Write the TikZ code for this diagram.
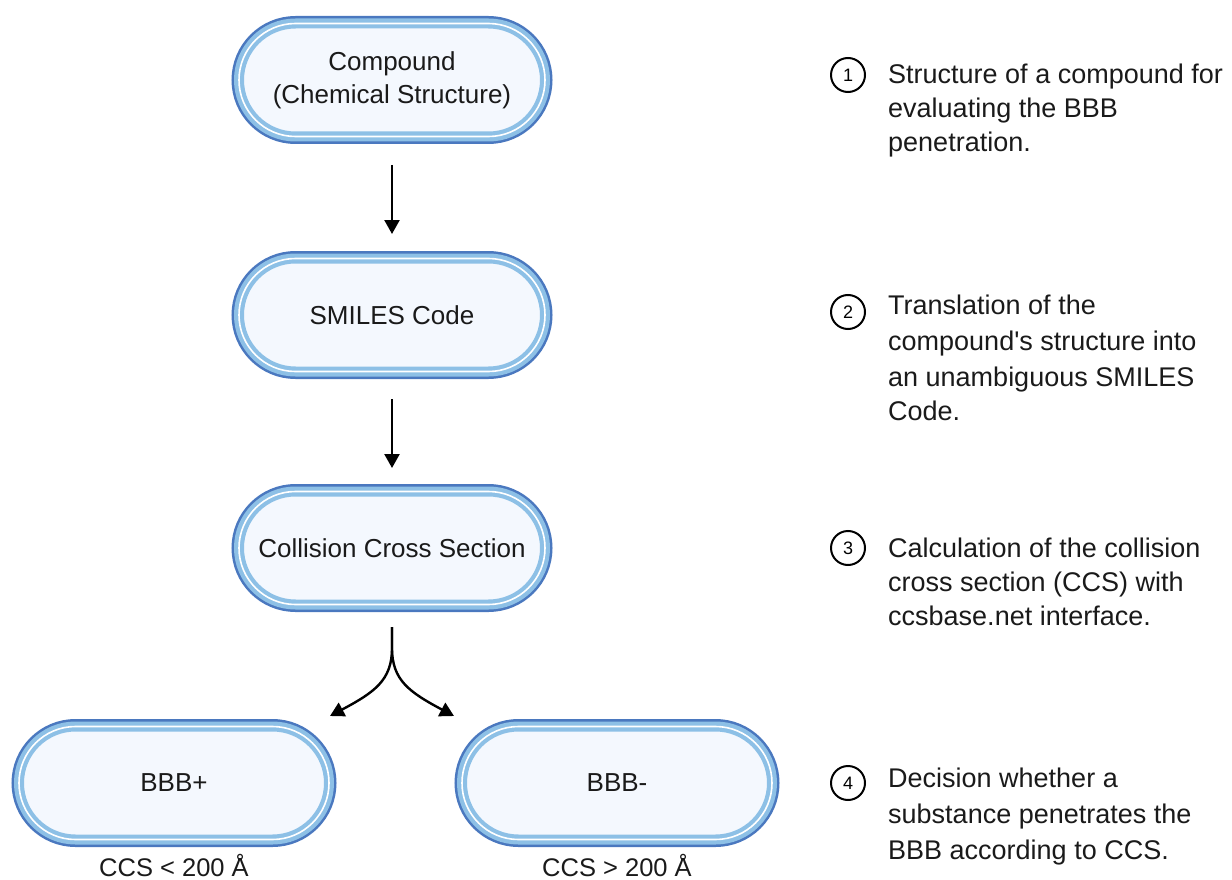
\documentclass[tikz,border=0pt]{standalone}
\usepackage{fontspec}
\newfontfamily\sansf{Liberation Sans}
\usetikzlibrary{shapes.misc,arrows.meta}
\definecolor{pilldark}{HTML}{4A78BF}
\definecolor{pillband}{HTML}{8DC0E6}
\definecolor{pillfill}{HTML}{F4F8FE}
\definecolor{txt}{HTML}{1A1A1A}
\tikzset{
  pill/.style={rounded rectangle, minimum width=306pt, minimum height=113pt, inner sep=0pt,
    preaction={draw=pilldark, line width=15pt},
    fill=pillfill, draw=pillband, line width=10pt,
    postaction={draw=white, line width=1.6pt},
    text=txt, align=center, font=\sansf\fontsize{26}{33}\selectfont},
  numc/.style={circle, draw=black, line width=2pt, minimum size=34pt, inner sep=0pt,
    font=\sansf\fontsize{18}{18}\selectfont},
  desc/.style={anchor=base west, inner sep=0pt, text=txt, font=\sansf\fontsize{27}{30}\selectfont},
  ccs/.style={anchor=base, inner sep=0pt, text=txt, font=\sansf\fontsize{25.5}{26}\selectfont},
  arr/.style={line width=2.4pt, -{Triangle[width=15pt,length=14pt]}}
}
\begin{document}
\begin{tikzpicture}[x=1pt,y=-1pt]
\path[use as bounding box] (0,0) rectangle (1232,880);
\node[pill] (comp) at (392,80) {Compound\\(Chemical Structure)};
\node[pill] (smiles) at (392,315) {SMILES Code};
\node[pill] (ccsn) at (392,548) {Collision Cross Section};
\node[pill, minimum width=310pt] (plus) at (174,783) {BBB+};
\node[pill, minimum width=310pt] (minus) at (617,783) {BBB-};
\node[ccs] (l1) at (174,876) {CCS < 200 Å};
\node[ccs] (l2) at (617,876) {CCS > 200 Å};
\coordinate (a1s) at (392,165);
\coordinate (a1e) at (392,234);
\coordinate (a2s) at (392,399);
\coordinate (a2e) at (392,468);
\draw[arr] (a1s) -- (a1e);
\draw[arr] (a2s) -- (a2e);
\coordinate (sp) at (392,627);
\coordinate (spm) at (392,648);
\coordinate (le) at (330,716);
\coordinate (re) at (454,716);
\draw[arr] (sp) -- (spm) .. controls (392,680) and (375,692) .. (le);
\draw[arr] (sp) -- (spm) .. controls (392,680) and (409,692) .. (re);
\node[numc] (n1) at (848,75) {1};
\node[numc] (n2) at (848,312) {2};
\node[numc] (n3) at (848,548) {3};
\node[numc] (n4) at (848,783) {4};
\node[desc] (t11) at (888,84) {Structure of a compound for};
\node[desc] (t12) at (888,118) {evaluating the BBB};
\node[desc] (t13) at (888,152) {penetration.};
\node[desc] (t21) at (888,314) {Translation of the};
\node[desc] (t22) at (888,350) {compound's structure into};
\node[desc] (t23) at (888,386) {an unambiguous SMILES};
\node[desc] (t24) at (888,420) {Code.};
\node[desc] (t31) at (888,557) {Calculation of the collision};
\node[desc] (t32) at (888,591) {cross section (CCS) with};
\node[desc] (t33) at (888,625) {ccsbase.net interface.};
\node[desc] (t41) at (888,787) {Decision whether a};
\node[desc] (t42) at (888,823) {substance penetrates the};
\node[desc] (t43) at (888,859) {BBB according to CCS.};
\end{tikzpicture}
\end{document}
